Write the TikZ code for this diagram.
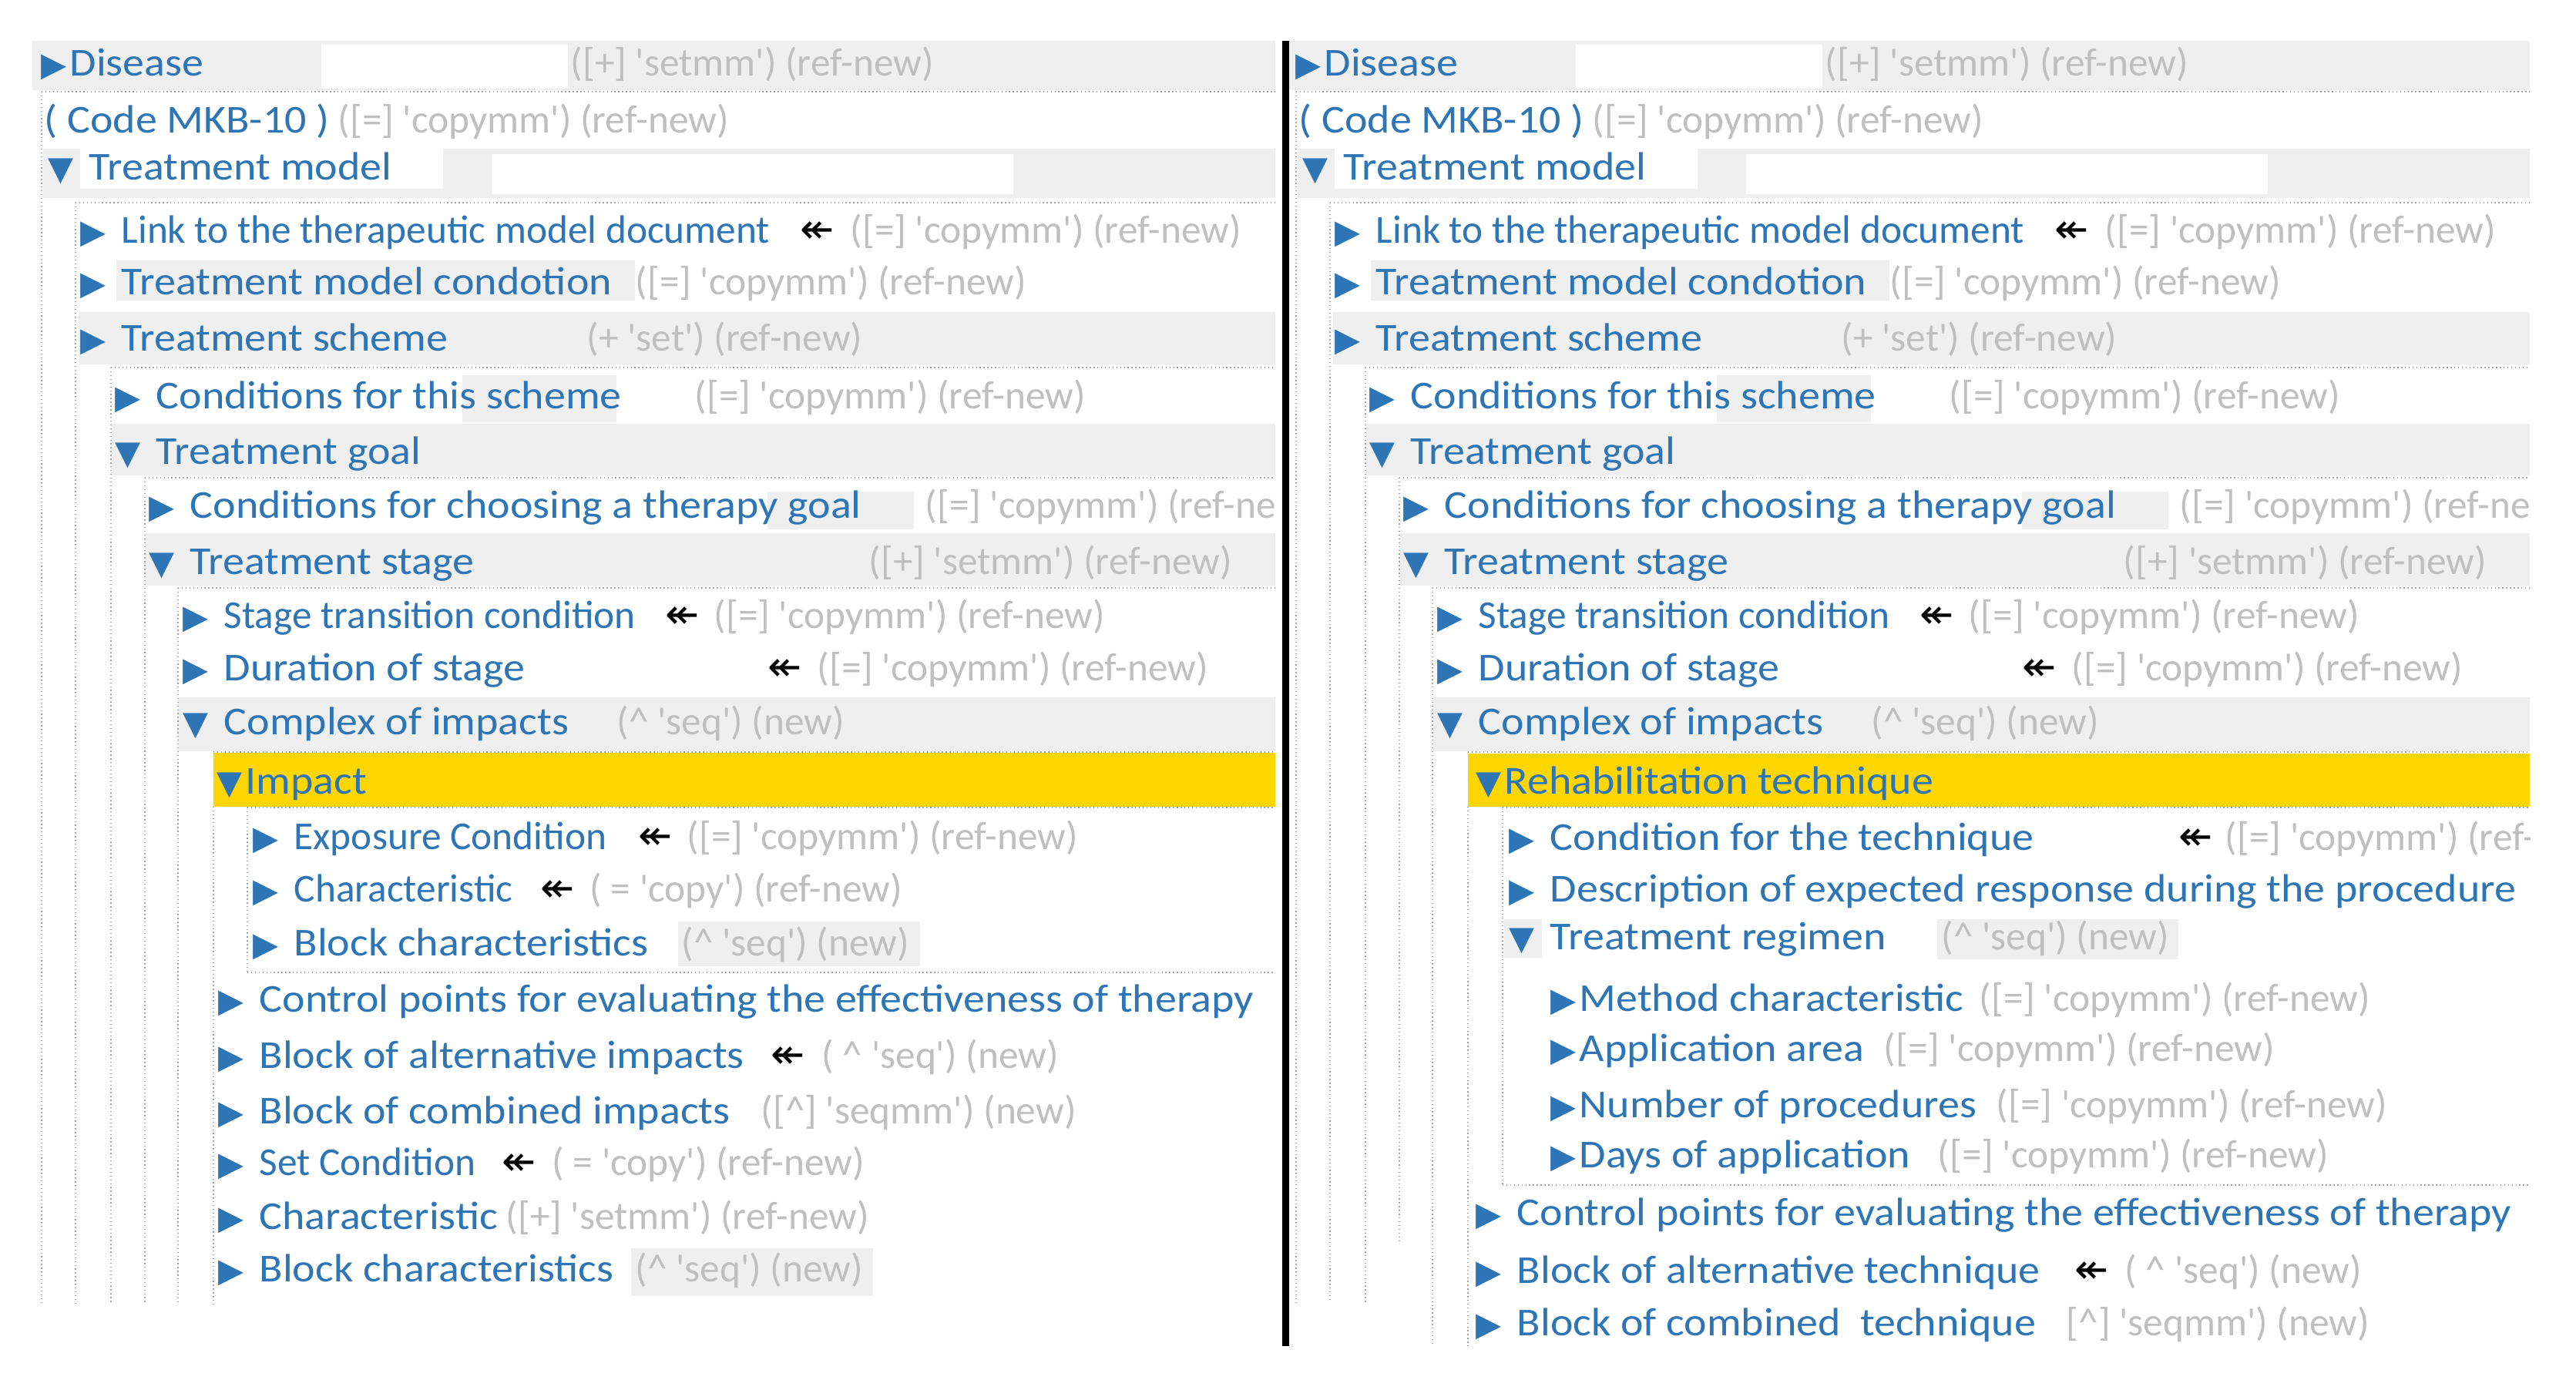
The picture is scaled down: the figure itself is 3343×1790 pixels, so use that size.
\documentclass[tikz,border=0pt]{standalone}
\usepackage{fontspec}
\newfontfamily\uifont{Carlito}
\newfontfamily\itemfont{Carlito}[FakeStretch=1.09]
\newfontfamily\symfont{DejaVu Sans}
\definecolor{itemBlue}{RGB}{46,117,182}
\definecolor{noteGray}{RGB}{191,191,191}
\definecolor{bandGray}{RGB}{239,239,239}
\definecolor{guideGray}{RGB}{165,165,165}
\definecolor{pickYellow}{RGB}{255,214,0}
\tikzset{lbl/.style={anchor=base west, inner sep=0pt, text=itemBlue, font=\itemfont\fontsize{14.6}{16}\selectfont}}
\tikzset{lblc/.style={lbl, font=\uifont\fontsize{14.6}{16}\selectfont}}
\tikzset{note/.style={lbl, text=noteGray, font=\uifont\fontsize{14.6}{16}\selectfont}}
\tikzset{refmark/.style={anchor=base west, inner sep=0pt, font=\symfont\fontsize{15}{16}\selectfont}}
\tikzset{guide/.style={densely dotted, draw=guideGray, line width=0.4pt}}
\newcommand{\op}{{\symfont\fontsize{12.2}{12}\selectfont ▶}\hspace{0.2cm}}
\newcommand{\opt}{{\symfont\fontsize{12.2}{12}\selectfont ▶}\hspace{0.04cm}}
\newcommand{\dn}{{\symfont\fontsize{12.2}{12}\selectfont ▼}\hspace{0.2cm}}
\newcommand{\dnt}{{\symfont\fontsize{12.2}{12}\selectfont ▼}\hspace{0.04cm}}
\newcommand{\up}{\textasciicircum}

\begin{document}
\begin{tikzpicture}[x=0.01cm, y=-0.01cm]
\useasboundingbox (0,0) rectangle (3343,1790);

% Rows shared by both panels
\foreach \side/\dx in {l/0, r/1628} {
\begin{scope}[xshift=\dx*0.01cm]
\clip (0,0) rectangle (1655,1790);
\fill[bandGray] (42,53) rectangle (1656,117);
\fill[white] (417,58) rectangle (737,115);
\fill[bandGray] (56,193) rectangle (1656,257);
\fill[white] (104,193) rectangle (575,245);
\fill[white] (638,200) rectangle (1315,252);
\fill[bandGray] (151,338) rectangle (824,390);
\fill[bandGray] (102,405) rectangle (1656,473);
\fill[bandGray] (600,487) rectangle (800,548);
\fill[bandGray] (144,550) rectangle (1656,617);
\fill[bandGray] (996,638) rectangle (1186,687);
\fill[bandGray] (188,692) rectangle (1656,760);
\fill[bandGray] (231,905) rectangle (1656,975);
\draw[guide] (54,119) -- (1656,119);
\draw[guide] (98,263) -- (1656,263);
\draw[guide] (144,477) -- (1656,477);
\draw[guide] (188,620) -- (1656,620);
\draw[guide] (231,763) -- (1656,763);
\draw[guide] (277,976) -- (1656,976);

\node[lbl] (\side-disease) at (53,98) {\opt Disease};
\node[note] (\side-disease-n) at (740,98) {([+] 'setmm') (ref-new)};
\node[lbl] (\side-code) at (57,172) {( Code MKB-10 )};
\node[note] (\side-code-n) at (438,172) {([=] 'copymm') (ref-new)};
\node[lbl] (\side-model) at (62,233) {\dn Treatment model};
\node[lblc] (\side-link) at (104,315) {\op Link to the therapeutic model document};
\node[refmark] (\side-link-r) at (1038,315) {↞};
\node[note] (\side-link-n) at (1103,315) {([=] 'copymm') (ref-new)};
\node[lbl] (\side-cond) at (104,382) {\op Treatment model condotion};
\node[note] (\side-cond-n) at (824,382) {([=] 'copymm') (ref-new)};
\node[lbl] (\side-scheme) at (104,455) {\op Treatment scheme};
\node[note] (\side-scheme-n) at (761,455) {(+ 'set') (ref-new)};
\node[lbl] (\side-thisscheme) at (149,530) {\op Conditions for this scheme};
\node[note] (\side-thisscheme-n) at (901,530) {([=] 'copymm') (ref-new)};
\node[lbl] (\side-goal) at (149,602) {\dn Treatment goal};
\node[lbl] (\side-choose) at (193,672) {\op Conditions for choosing a therapy goal};
\node[note] (\side-choose-n) at (1200,672) {([=] 'copymm') (ref-new)};
\node[lbl] (\side-stage) at (193,745) {\dn Treatment stage};
\node[note] (\side-stage-n) at (1127,745) {([+] 'setmm') (ref-new)};
\node[lblc] (\side-trans) at (237,815) {\op Stage transition condition};
\node[refmark] (\side-trans-r) at (863,815) {↞};
\node[note] (\side-trans-n) at (926,815) {([=] 'copymm') (ref-new)};
\node[lbl] (\side-dur) at (237,883) {\op Duration of stage};
\node[refmark] (\side-dur-r) at (996,883) {↞};
\node[note] (\side-dur-n) at (1060,883) {([=] 'copymm') (ref-new)};
\node[lbl] (\side-complex) at (237,953) {\dn Complex of impacts};
\node[note] (\side-complex-n) at (800,953) {(\up{} 'seq') (new)};
\end{scope}
}

% Left panel: impact
\begin{scope}
\clip (0,0) rectangle (1655,1790);
\fill[pickYellow] (277,977) rectangle (1656,1047);
\fill[bandGray] (880,1196) rectangle (1194,1254);
\fill[bandGray] (819,1620) rectangle (1133,1682);
\draw[guide] (321,1048) -- (1656,1048);
\draw[guide] (321,1262) -- (1656,1262);
\draw[guide] (54,119) -- (54,1693);
\draw[guide] (98,263) -- (98,1693);
\draw[guide] (144,477) -- (144,1693);
\draw[guide] (188,620) -- (188,1693);
\draw[guide] (231,763) -- (231,1693);
\draw[guide] (277,1047) -- (277,1693);
\draw[guide] (321,1048) -- (321,1262);

\node[lbl] (impact) at (281,1030) {\dnt Impact};
\node[lblc] (exposure) at (328,1102) {\op Exposure Condition};
\node[refmark] (exposure-r) at (828,1102) {↞};
\node[note] (exposure-n) at (891,1102) {([=] 'copymm') (ref-new)};
\node[lblc] (charact) at (328,1170) {\op Characteristic};
\node[refmark] (charact-r) at (701,1170) {↞};
\node[note] (charact-n) at (765,1170) {( = 'copy') (ref-new)};
\node[lbl] (blockch) at (328,1240) {\op Block characteristics};
\node[note] (blockch-n) at (884,1240) {(\up{} 'seq') (new)};
\node[lbl] (control) at (283,1313) {\op Control points for evaluating the effectiveness of therapy};
\node[lbl] (altimp) at (283,1386) {\op Block of alternative impacts};
\node[refmark] (altimp-r) at (1000,1386) {↞};
\node[note] (altimp-n) at (1066,1386) {( \up{} 'seq') (new)};
\node[lbl] (combimp) at (283,1458) {\op Block of combined impacts};
\node[note] (combimp-n) at (987,1458) {([\up] 'seqmm') (new)};
\node[lblc] (setcond) at (283,1525) {\op Set Condition};
\node[refmark] (setcond-r) at (651,1525) {↞};
\node[note] (setcond-n) at (716,1525) {( = 'copy') (ref-new)};
\node[lbl] (charact2) at (283,1595) {\op Characteristic};
\node[note] (charact2-n) at (656,1595) {([+] 'setmm') (ref-new)};
\node[lbl] (blockch2) at (283,1663) {\op Block characteristics};
\node[note] (blockch2-n) at (824,1663) {(\up{} 'seq') (new)};
\end{scope}

% Right panel: rehabilitation technique
\begin{scope}
\clip (1676,0) rectangle (3283,1790);
\fill[pickYellow] (1905,978) rectangle (3284,1047);
\fill[bandGray] (1952,1193) rectangle (2001,1243);
\fill[bandGray] (2514,1193) rectangle (2827,1245);
\draw[guide] (1950,1048) -- (3284,1048);
\draw[guide] (1950,1538) -- (3284,1538);
\draw[guide] (1682,119) -- (1682,1690);
\draw[guide] (1726,263) -- (1726,1690);
\draw[guide] (1772,477) -- (1772,1690);
\draw[guide] (1816,620) -- (1816,1613);
\draw[guide] (1859,763) -- (1859,1747);
\draw[guide] (1905,1047) -- (1905,1747);
\draw[guide] (1950,1048) -- (1950,1538);

\node[lbl] (rehab) at (1915,1030) {\dnt Rehabilitation technique};
\node[lbl] (techcond) at (1958,1103) {\op Condition for the technique};
\node[refmark] (techcond-r) at (2827,1103) {↞};
\node[note] (techcond-n) at (2887,1103) {([=] 'copymm') (ref-new)};
\node[lbl] (respdesc) at (1958,1170) {\op Description of expected response during the procedure};
\node[lbl] (regimen) at (1958,1232) {\dn Treatment regimen};
\node[note] (regimen-n) at (2519,1232) {(\up{} 'seq') (new)};
\node[lbl] (method) at (2012,1312) {\opt Method characteristic};
\node[note] (method-n) at (2568,1312) {([=] 'copymm') (ref-new)};
\node[lbl] (area) at (2012,1377) {\opt Application area};
\node[note] (area-n) at (2444,1377) {([=] 'copymm') (ref-new)};
\node[lbl] (procnum) at (2012,1450) {\opt Number of procedures};
\node[note] (procnum-n) at (2590,1450) {([=] 'copymm') (ref-new)};
\node[lbl] (days) at (2012,1515) {\opt Days of application};
\node[note] (days-n) at (2514,1515) {([=] 'copymm') (ref-new)};
\node[lbl] (control-r) at (1915,1590) {\op Control points for evaluating the effectiveness of therapy};
\node[lbl] (alttech) at (1915,1665) {\op Block of alternative technique};
\node[refmark] (alttech-r) at (2692,1665) {↞};
\node[note] (alttech-n) at (2757,1665) {( \up{} 'seq') (new)};
\node[lbl] (combtech) at (1915,1733) {\op Block of combined~ technique};
\node[note] (combtech-n) at (2681,1733) {[\up] 'seqmm') (new)};
\end{scope}

% Divider
\fill[black] (1664,53) rectangle (1673,1747);
\end{tikzpicture}
\end{document}
